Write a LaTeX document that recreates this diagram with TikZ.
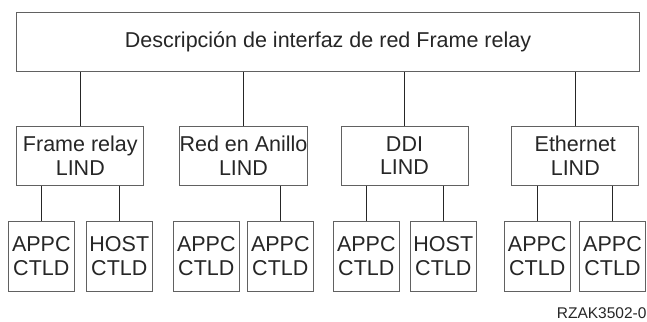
\documentclass[tikz,border=0pt]{standalone}
\usepackage{fontspec}
\setmainfont{Liberation Sans}
\usetikzlibrary{positioning}

\begin{document}
\begin{tikzpicture}[x=1pt,y=-1pt,font=\fontsize{21.5}{23.5}\selectfont]
  \tikzset{ib/.style={draw=black!62,line width=1pt,fill=white,text=black!85,inner sep=0pt,align=center},
    lnd/.style={ib,minimum width=127pt,minimum height=59pt},
    ctl/.style={ib,minimum width=66pt,minimum height=70pt},
    ln/.style={draw=black!85,line width=1pt}}
  \useasboundingbox (0,0) rectangle (647,321);
  \node[ib,minimum width=623pt,minimum height=59pt] (nwi) at (328,42.2) {Descripción de interfaz de red Frame relay};
  \node[lnd] (fr) at (80.3,155.7) {Frame relay\\LIND};
  \node[lnd] (tr) at (243.5,155.7) {Red en Anillo\\LIND};
  \node[lnd] (ddi) at (404.5,155.7) {DDI\\LIND};
  \node[lnd] (eth) at (575.3,155.7) {Ethernet\\LIND};
  \node[ctl] (fr1) at (41.3,256) {APPC\\CTLD};
  \node[ctl] (fr2) at (119.3,256) {HOST\\CTLD};
  \node[ctl] (tr1) at (206.3,256) {APPC\\CTLD};
  \node[ctl] (tr2) at (280.3,256) {APPC\\CTLD};
  \node[ctl] (ddi1) at (366.3,256) {APPC\\CTLD};
  \node[ctl] (ddi2) at (443.3,256) {HOST\\CTLD};
  \node[ctl] (eth1) at (537.2,256) {APPC\\CTLD};
  \node[ctl] (eth2) at (612.5,256) {APPC\\CTLD};
  % lines from the NWI down to each LIND
  \draw[ln] (nwi.south -| fr.north) -- (fr.north);
  \draw[ln] (nwi.south -| tr.north) -- (tr.north);
  \draw[ln] (nwi.south -| ddi.north) -- (ddi.north);
  \draw[ln] (nwi.south -| eth.north) -- (eth.north);
  % lines from each LIND down to its controllers
  \draw[ln] (fr.south -| fr1.north) -- (fr1.north);
  \draw[ln] (fr.south -| fr2.north) -- (fr2.north);
  \draw[ln] (tr.south -| tr2.north) -- (tr2.north);
  \draw[ln] (ddi.south -| ddi1.north) -- (ddi1.north);
  \draw[ln] (ddi.south -| ddi2.north) -- (ddi2.north);
  \draw[ln] (eth.south -| eth1.north) -- (eth1.north);
  \draw[ln] (eth.south -| eth2.north) -- (eth2.north);
  \node[anchor=east,inner sep=0pt,text=black!85,font=\fontsize{15.5}{18}\selectfont] (fig) at (646.7,313) {RZAK3502-0};
\end{tikzpicture}
\end{document}
